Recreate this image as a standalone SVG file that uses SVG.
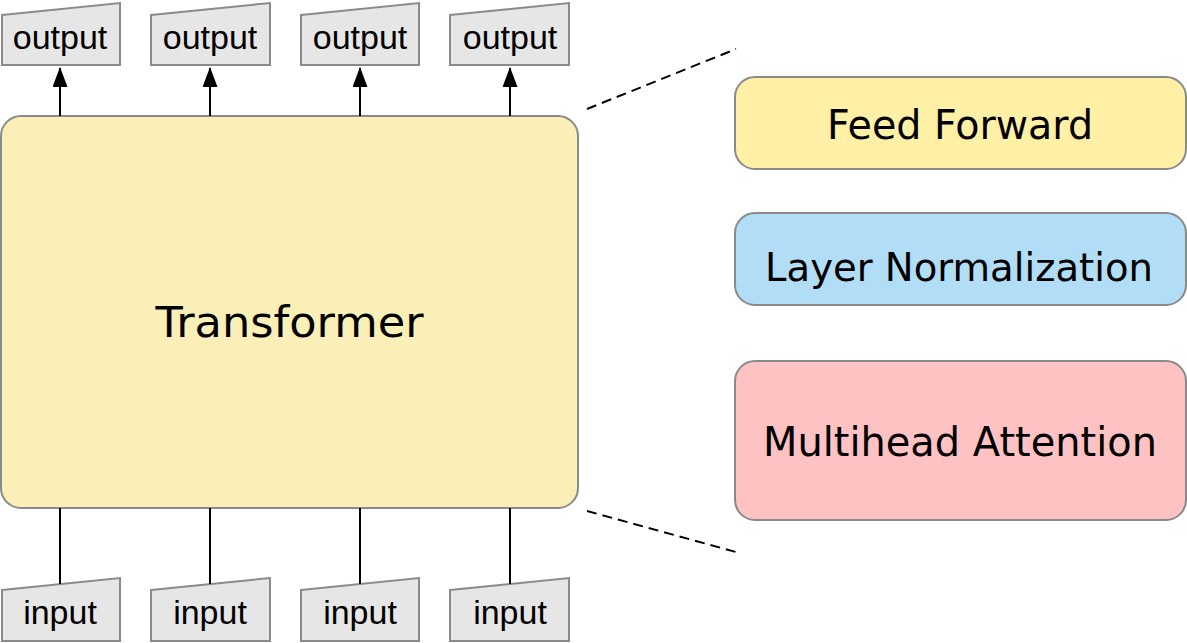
<svg xmlns="http://www.w3.org/2000/svg" width="1187" height="643" viewBox="0 0 1187 643">
<style>
.io{fill:#e6e6e6;stroke:#8a8a8a;stroke-width:2}
.iot{font-family:"Liberation Sans",Arial,sans-serif;font-size:34px;fill:#000;text-anchor:middle}
.box{stroke:#8a8a8a;stroke-width:2}
.big{font-family:"DejaVu Sans","Comic Sans MS",sans-serif;font-size:40px;fill:#000;text-anchor:middle}
.conn{stroke:#000;stroke-width:2;fill:none}
.dash{stroke:#000;stroke-width:2;fill:none;stroke-dasharray:10 6}
</style>
<defs>
<marker id="arr" markerWidth="20" markerHeight="15" refX="19" refY="7.5" orient="auto" markerUnits="userSpaceOnUse" viewBox="0 0 20 15">
<path d="M0,0 L20,7.5 L0,15 Z" fill="#000"/>
</marker>
</defs>
<g id="transformer">
<rect class="box" x="1" y="116" width="577" height="392" rx="20" fill="#faf0b7"/>
<text class="big" x="289.5" y="337" style="font-size:43px" textLength="268" lengthAdjust="spacingAndGlyphs">Transformer</text>
</g>
<g id="output1"><path class="io" d="M2,15 L120,3 L120,65 L2,65 Z"/><text class="iot" x="60" y="49">output</text></g>
<g id="output2"><path class="io" d="M151,15 L270,3 L270,65 L151,65 Z"/><text class="iot" x="210" y="49">output</text></g>
<g id="output3"><path class="io" d="M301,15 L419,3 L419,65 L301,65 Z"/><text class="iot" x="360" y="49">output</text></g>
<g id="output4"><path class="io" d="M450,15 L569,3 L569,65 L450,65 Z"/><text class="iot" x="510" y="49">output</text></g>
<g id="input1"><path class="io" d="M2,590 L120,578 L120,641 L2,641 Z"/><text class="iot" x="60" y="624">input</text></g>
<g id="input2"><path class="io" d="M151,590 L270,578 L270,641 L151,641 Z"/><text class="iot" x="210" y="624">input</text></g>
<g id="input3"><path class="io" d="M301,590 L419,578 L419,641 L301,641 Z"/><text class="iot" x="360" y="624">input</text></g>
<g id="input4"><path class="io" d="M450,590 L569,578 L569,641 L450,641 Z"/><text class="iot" x="510" y="624">input</text></g>
<g id="feedforward">
<rect class="box" x="735" y="77" width="451" height="92" rx="20" fill="#fff0a6"/>
<text class="big" x="960" y="139" textLength="266" lengthAdjust="spacingAndGlyphs">Feed Forward</text>
</g>
<g id="layernorm">
<rect class="box" x="735" y="213" width="451" height="92" rx="20" fill="#b1ddf6"/>
<text class="big" x="959" y="281" style="font-size:39px" textLength="388" lengthAdjust="spacingAndGlyphs">Layer Normalization</text>
</g>
<g id="multihead">
<rect class="box" x="735" y="361" width="451" height="159" rx="20" fill="#ffc2c2"/>
<text class="big" x="960" y="456" textLength="394" lengthAdjust="spacingAndGlyphs">Multihead Attention</text>
</g>
<g id="connectors">
<line class="conn" x1="60" y1="116" x2="60" y2="68" marker-end="url(#arr)"/>
<line class="conn" x1="210" y1="116" x2="210" y2="68" marker-end="url(#arr)"/>
<line class="conn" x1="360" y1="116" x2="360" y2="68" marker-end="url(#arr)"/>
<line class="conn" x1="510" y1="116" x2="510" y2="68" marker-end="url(#arr)"/>
<line class="conn" x1="60" y1="508" x2="60" y2="584"/>
<line class="conn" x1="210" y1="508" x2="210" y2="584"/>
<line class="conn" x1="360" y1="508" x2="360" y2="584"/>
<line class="conn" x1="510" y1="508" x2="510" y2="584"/>
<line class="dash" x1="587" y1="109" x2="736" y2="49"/>
<line class="dash" x1="587" y1="511" x2="736" y2="552"/>
</g>
</svg>
